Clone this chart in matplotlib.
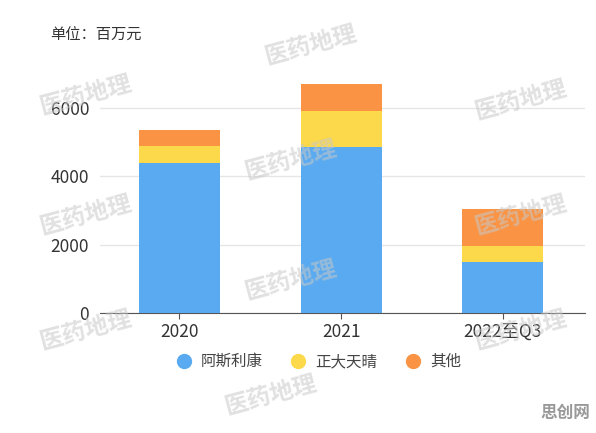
import matplotlib
matplotlib.use('Agg')
import matplotlib.pyplot as plt
from matplotlib.lines import Line2D

plt.rcParams['font.family'] = ['Noto Sans CJK SC', 'DejaVu Sans']

years = ['2020', '2021', '2022至Q3']
az = [4390, 4860, 1490]      # 阿斯利康
cttq = [490, 1055, 470]      # 正大天晴
other = [470, 780, 1095]     # 其他
names = ['阿斯利康', '正大天晴', '其他']
colors = ['#59aaf0', '#fcd94a', '#fa9444']

fig = plt.figure(figsize=(5.96, 4.33), dpi=100)
ax = fig.add_axes([0.168, 0.277, 0.814, 0.552])

x = range(len(years))
ax.bar(x, az, width=0.5, color=colors[0], zorder=3)
ax.bar(x, cttq, width=0.5, bottom=az, color=colors[1], zorder=3)
bot = [a + b for a, b in zip(az, cttq)]
ax.bar(x, other, width=0.5, bottom=bot, color=colors[2], zorder=3)

ax.set_xlim(-0.49, 2.51)
ax.set_ylim(0, 7000)
ax.set_yticks([0, 2000, 4000, 6000])
ax.set_xticks(list(x))
ax.set_xticklabels(years)
ax.grid(axis='y', color='#e6e6e6', linewidth=1, zorder=0)
for s in ['top', 'right', 'left']:
    ax.spines[s].set_visible(False)
ax.spines['bottom'].set_color('#555555')
ax.tick_params(axis='y', length=0, labelsize=12.5, labelcolor='#333333', pad=8)
ax.tick_params(axis='x', length=4, color='#555555', labelsize=12.5, labelcolor='#333333', pad=3)

fig.text(0.084, 0.919, '单位：百万元', fontsize=11, color='#333333', va='center')

handles = [Line2D([], [], marker='o', linestyle='', markersize=10, color=c) for c in colors]
fig.legend(handles, names, loc='center', bbox_to_anchor=(0.528, 0.165), ncol=3,
           frameon=False, fontsize=11.2, labelcolor='#444444',
           handletextpad=0.1, columnspacing=1.3)

# watermarks
marks = [(310, 45), (85, 95), (520, 100), (290, 160), (85, 215), (520, 215),
         (290, 280), (85, 330), (520, 330), (270, 395)]
for px, py in marks:
    fig.text(px / 596, 1 - py / 433, '医药地理', fontsize=17, fontweight='bold',
             color='#c8c8c8', alpha=0.55, rotation=15, ha='center', va='center', zorder=0)
fig.text(565 / 596, 1 - 413 / 433, '思创网', fontsize=12, fontweight='bold',
         color='#999999', ha='center', va='center')

fig.savefig('out.png', dpi=100)
